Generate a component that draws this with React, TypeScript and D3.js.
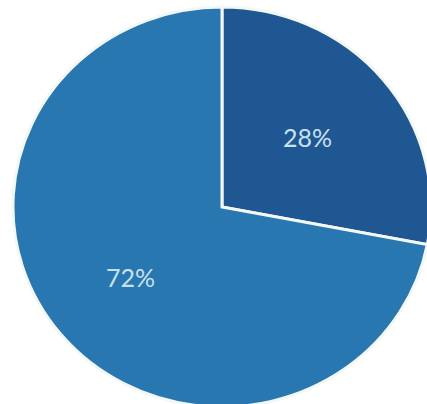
import React from "react";
import * as d3 from "d3";

const categories = ["A", "B"];
const values = [28, 72];
const colors = ["#1f5792", "#2877b1"];

export default function App() {
  const W = 427, H = 404;
  const cx = 222, cy = 207, R = 200, sx = 1.045;
  const pie = d3.pie<number>().sort(null).value((d) => d);
  const arcs = pie(values);
  const arc = d3.arc<d3.PieArcDatum<number>>().innerRadius(0).outerRadius(R);
  const labelArc = d3.arc<d3.PieArcDatum<number>>().innerRadius(110).outerRadius(110);
  return (
    <svg width={W} height={H} style={{ position: "absolute", left: 0, top: 0, background: "#fff" }}>
      <g transform={`translate(${cx},${cy}) scale(${sx},1)`}>
        {arcs.map((a, i) => (
          <path key={categories[i]} d={arc(a) || ""} fill={colors[i]} stroke="#f4f8f4" strokeWidth={3} strokeLinejoin="miter" vectorEffect="non-scaling-stroke" />
        ))}
      </g>
      <g transform={`translate(${cx},${cy})`}>
        {arcs.map((a, i) => {
          const [x, y] = labelArc.centroid(a);
          return (
            <text key={categories[i]} x={x * sx - 3} y={y} textAnchor="middle" dominantBaseline="central"
              fontFamily="Lato, 'Open Sans', sans-serif" fontSize={25} fill="#c9e0ee">
              {`${values[i]}%`}
            </text>
          );
        })}
      </g>
    </svg>
  );
}
